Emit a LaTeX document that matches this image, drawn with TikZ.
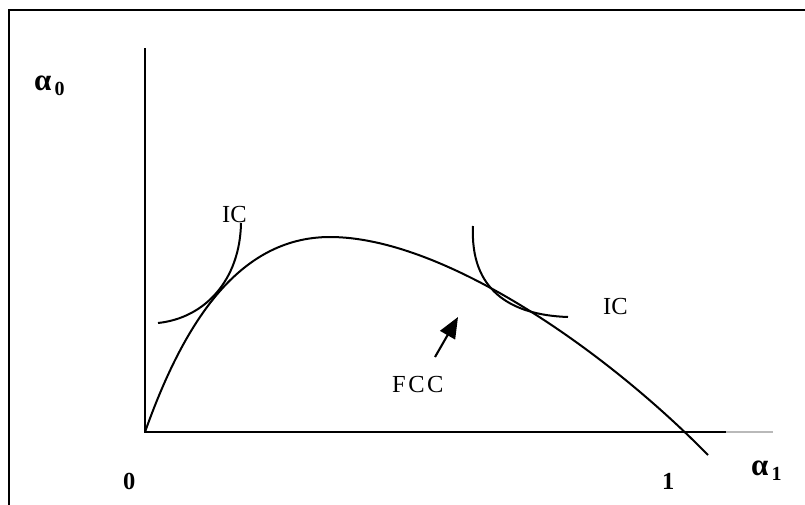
\documentclass[tikz,border=0pt]{standalone}
\usepackage{fontspec}
\setmainfont{Liberation Serif}
\usetikzlibrary{arrows.meta,positioning}

\newcommand{\sublbl}[2]{{\bfseries\fontsize{31}{33}\selectfont #1\kern3pt\raisebox{-5pt}{\fontsize{20}{22}\selectfont #2}}}

\begin{document}
\begin{tikzpicture}[
    x=1pt, y=-1pt,
    font=\fontsize{24.5}{26}\selectfont,
    axis/.style={line width=2.1pt},
    curve/.style={line width=2pt},
    lbl/.style={inner sep=0pt, anchor=base west},
    pointer/.style={-{Triangle[length=21pt,width=17pt]}, line width=2.1pt}
]
    \useasboundingbox (0,0) rectangle (805,504);
    \draw[line width=2.2pt] (9,10) rectangle (820,520);

    % axes
    \coordinate (origin) at (145,432);
    \coordinate (ytop) at (145,48);
    \coordinate (xend) at (726,432);
    \coordinate (xfade) at (773,432);
    \draw[axis] (ytop) -- (origin) -- (xend);
    \draw[axis, gray!55] (xend) -- (xfade);

    % feasible contract curve
    \coordinate (peak) at (330,237);
    \draw[curve] (origin) .. controls (182,328) and (236,237) .. (peak)
                 .. controls (440,237) and (600,345) .. (708,455);

    % indifference curves
    \draw[curve] (158,323) .. controls (205,318) and (240,280) .. (241,223);
    \draw[curve] (473,226) .. controls (470,290) and (510,315) .. (568,317);

    % labels
    \node[lbl] (a0) at (34,90) {\sublbl{α}{0}};
    \node[lbl] (a1) at (751,475) {\sublbl{α}{1}};
    \node[lbl] (zero) at (123,489) {\bfseries 0};
    \node[lbl] (one) at (662,489) {\bfseries 1};
    \node[lbl] (icl) at (222,222) {IC};
    \node[lbl] (icr) at (603,314) {IC};
    \node[lbl] (fcc) at (392,392) {F\kern2.5pt C\kern2.5pt C};

    % arrow to the curve
    \coordinate (tip) at (458,317);
    \draw[pointer] (435,357) -- (tip);
\end{tikzpicture}
\end{document}
